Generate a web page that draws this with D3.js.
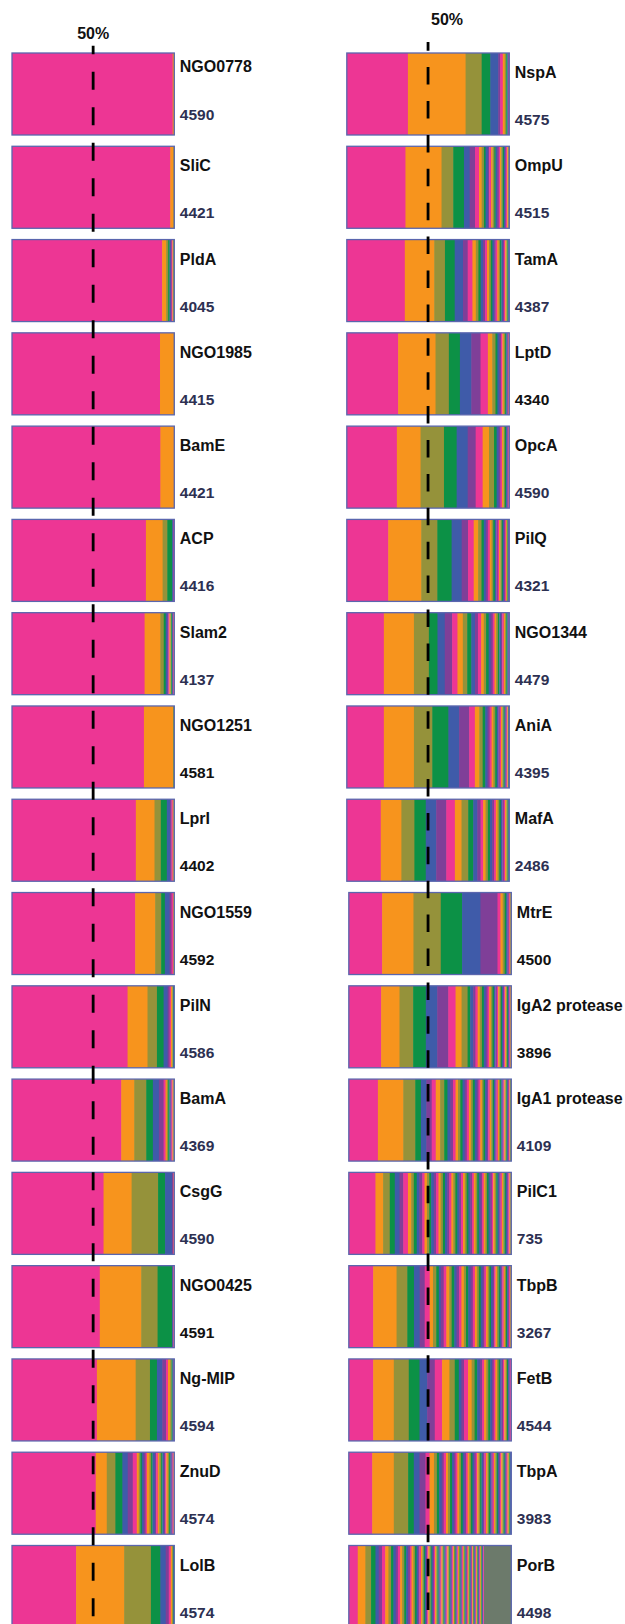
<!DOCTYPE html>
<html>
<head>
<meta charset="utf-8">
<script src="https://cdn.jsdelivr.net/npm/d3@7"></script>
<style>
  html, body { margin: 0; background: #fff; }
  svg { display: block; }
</style>
</head>
<body>
<svg id="chart" width="625" height="1624"></svg>
<script>
// Proteins and number of isolates typed for each
const leftProteins = ["NGO0778", "SliC", "PldA", "NGO1985", "BamE", "ACP", "Slam2", "NGO1251", "LprI",
  "NGO1559", "PilN", "BamA", "CsgG", "NGO0425", "Ng-MIP", "ZnuD", "LolB"];
const leftIsolates = [4590, 4421, 4045, 4415, 4421, 4416, 4137, 4581, 4402, 4592, 4586, 4369, 4590, 4591, 4594, 4574, 4574];

const rightProteins = ["NspA", "OmpU", "TamA", "LptD", "OpcA", "PilQ", "NGO1344", "AniA", "MafA", "MtrE",
  "IgA2 protease", "IgA1 protease", "PilC1", "TbpB", "FetB", "TbpA", "PorB"];
const rightIsolates = [4575, 4515, 4387, 4340, 4590, 4321, 4479, 4395, 2486, 4500, 3896, 4109, 735, 3267, 4544, 3983, 4498];

// Allele frequencies (% of isolates), most common allele first
const fNGO0778 = [99.0, 0.8, 0.2];
const fSliC = [97.5, 2.0, 0.3, 0.2];
const fPldA = [92.4, 2.5, 1.2, 0.9, 0.7, 0.6, 0.5, 0.4, 0.4, 0.3];
const fNGO1985 = [91.2, 8.5, 0.3];
const fBamE = [91.4, 8.4, 0.2];
const fACP = [82.5, 10.3, 2.9, 3.0, 0.5, 0.4, 0.4];
const fSlam2 = [81.7, 9.7, 2.1, 1.2, 1.0, 0.7, 0.6, 0.6, 0.5, 0.5, 0.4, 0.4, 0.3, 0.3];
const fNGO1251 = [81.3, 17.9, 0.5, 0.3];
const fLprI = [76.3, 11.5, 3.9, 3.7, 2.0, 0.9, 0.7, 0.5, 0.3, 0.2];
const fNGO1559 = [75.9, 12.3, 3.7, 2.3, 2.9, 1.2, 1.0, 0.4, 0.3];
const fPilN = [71.2, 12.3, 5.8, 4.1, 2.5, 1.2, 0.8, 0.8, 0.5, 0.4, 0.4];
const fBamA = [67.3, 8.0, 7.4, 4.1, 3.7, 2.9, 1.2, 0.8, 0.8, 0.8, 0.7, 0.6, 0.6, 0.5, 0.4, 0.2];
const fCsgG = [56.4, 17.3, 16.3, 4.3, 4.3, 0.6, 0.4, 0.4];
const fNGO0425 = [54.1, 25.5, 10.1, 8.9, 0.4, 0.4, 0.3, 0.3];
const fNgMIP = [52.3, 23.9, 8.8, 4.3, 3.3, 2.3, 1.2, 1.4, 0.8, 0.6, 0.5, 0.4, 0.2];
const fZnuD = [51.6, 6.8, 5.3, 4.3, 3.3, 3.1, 2.5,
  1.2, 0.9, 1.0, 1.1, 1.2, 0.8, 1.6, 1.0, 0.9, 1.4, 0.8, 1.0, 0.9, 1.2, 0.8, 0.9, 0.8, 0.7, 0.9, 0.8, 0.7, 0.8, 0.6, 0.6, 0.5];
const fLolB = [39.5, 29.6, 16.5, 5.8, 3.3, 1.9, 1.2, 0.8, 0.6, 0.4, 0.4];

const fNspA = [37.6, 35.5, 9.9, 5.3, 4.9, 1.2, 1.6, 1.2, 0.9, 0.7, 0.5, 0.4, 0.3];
const fOmpU = [36.1, 22.2, 7.2, 6.6, 3.5, 3.3, 2.5, 1.6, 1.4, 1.0,
  1.4, 0.8, 1.2, 0.9, 1.1, 0.8, 1.0, 0.9, 0.8, 0.7, 0.9, 0.8, 0.7, 0.6, 0.7, 0.6, 0.5, 0.2];
const fTamA = [35.7, 18.1, 6.6, 6.0, 5.1, 2.9, 2.9, 2.1, 1.6, 1.4, 1.4,
  1.3, 1.2, 1.2, 1.1, 1.0, 1.1, 0.9, 1.0, 0.9, 0.8, 0.9, 0.8, 0.7, 0.8, 0.7, 0.6, 0.6, 0.5, 0.1];
const fLptD = [31.6, 23.0, 8.2, 6.8, 7.0, 5.7, 4.5, 2.7, 2.0, 1.2, 1.2,
  1.0, 0.9, 0.8, 0.8, 0.7, 0.6, 0.5, 0.4, 0.4];
const fOpcA = [30.8, 14.6, 14.4, 7.8, 6.8, 4.9, 4.3, 3.9, 3.1, 1.6,
  1.2, 1.1, 1.0, 0.9, 0.8, 0.8, 0.7, 0.6, 0.4, 0.3];
const fPilQ = [25.5, 20.3, 9.9, 8.8, 6.2, 3.9, 3.5, 2.7, 2.1,
  1.4, 1.3, 1.2, 1.2, 1.1, 1.0, 1.0, 0.9, 0.9, 0.8, 0.8, 0.8, 0.7, 0.7, 0.6, 0.6, 0.5, 0.5, 0.4, 0.3, 0.4];
const fNGO1344 = [22.8, 18.5, 9.2, 5.3, 4.5, 4.5, 3.3, 3.3, 2.7, 2.5,
  2.3, 1.8, 2.0, 1.6, 1.4, 1.6, 1.2, 1.3, 1.1, 1.0, 1.1, 0.9, 1.0, 0.8, 0.9, 0.8, 0.7, 0.7, 0.6, 0.6];
const fAniA = [22.8, 18.5, 11.3, 9.9, 6.6, 6.2, 3.5, 2.7, 2.1, 1.6,
  1.4, 1.3, 1.2, 1.1, 1.1, 1.0, 0.9, 0.9, 0.8, 0.8, 0.7, 0.7, 0.6, 0.6, 0.5, 0.4, 0.3, 0.2, 0.3];
const fMafA = [20.9, 12.7, 8.0, 7.0, 6.4, 6.2, 5.3, 4.1, 4.1, 3.1, 2.5, 2.0,
  1.6, 1.5, 1.4, 1.3, 1.3, 1.2, 1.1, 1.1, 1.0, 1.0, 0.9, 0.9, 0.8, 0.8, 0.7, 0.6, 0.5];
const fMtrE = [20.5, 19.3, 16.8, 13.1, 11.3, 10.5, 1.8, 1.4, 1.2, 1.0, 0.8, 0.7, 0.6, 0.5, 0.3, 0.2];
const fIgA2 = [19.9, 11.3, 8.4, 7.8, 7.0, 6.8, 4.5, 3.7, 3.7, 1.6, 1.8, 1.4,
  1.4, 1.3, 1.3, 1.2, 1.2, 1.1, 1.0, 1.0, 1.0, 0.9, 0.9, 0.9, 0.8, 0.8, 0.8, 0.7, 0.7, 0.7,
  0.6, 0.6, 0.6, 0.5, 0.5, 0.5, 0.4, 0.4, 0.3];
const fIgA1 = [17.9, 15.6, 7.4, 3.5, 3.3, 3.3, 2.5, 2.7, 2.5, 2.0,
  1.8, 1.6, 1.6, 1.5, 1.4, 1.4, 1.3, 1.3, 1.3, 1.2, 1.2, 1.2, 1.2, 1.1, 1.1, 1.0, 1.0, 1.0, 1.0,
  0.9, 0.9, 0.9, 0.9, 0.8, 0.8, 0.8, 0.8, 0.7, 0.7, 0.7, 0.7, 0.6, 0.6, 0.6, 0.6,
  0.5, 0.5, 0.5, 0.5, 0.4, 0.4, 0.3];
const fPilC1 = [16.4, 4.7, 4.1, 3.1, 2.9, 2.3,
  2.9, 2.0, 1.6, 1.8, 1.6, 1.8, 1.4, 1.5, 1.4, 1.2,
  1.6, 1.4, 1.5, 1.3, 1.4, 1.3, 1.4, 1.2, 1.3, 1.2, 1.3, 1.2, 1.2, 1.1, 1.2, 1.1, 1.1,
  1.1, 1.1, 1.1, 1.1, 1.1, 1.0, 1.0, 1.0, 1.0, 1.0, 1.0, 1.0, 1.0, 1.0, 1.0,
  0.9, 0.9, 0.9, 0.9, 0.9, 0.9, 0.8, 0.8, 0.8, 0.8, 0.8, 0.8, 0.6, 0.6, 0.6];
const fTbpB = [15.0, 14.4, 6.6, 4.1, 3.5, 3.1, 3.1, 2.0, 2.0, 1.6, 1.2,
  1.8, 1.6, 1.8, 1.5, 1.6, 1.4, 1.6, 1.4, 1.5, 1.3, 1.4, 1.4, 1.4,
  1.3, 1.2, 1.2, 1.2, 1.1, 1.1, 1.1, 1.0, 1.0, 1.0, 1.0, 0.9, 0.9, 0.9, 0.9,
  0.8, 0.8, 0.8, 0.8, 0.7, 0.7, 0.7, 0.6, 0.6, 0.5, 0.5, 0.4];
const fFetB = [15.0, 12.7, 9.2, 6.6, 4.7, 4.7, 4.5, 4.5, 3.3, 2.5, 1.6, 1.6,
  2.5, 2.2, 1.8, 1.6, 1.6, 1.4, 1.3, 1.3, 1.2, 1.2, 1.1, 1.1, 1.0, 1.0, 1.0,
  0.9, 0.9, 0.9, 0.8, 0.8, 0.8, 0.7, 0.7, 0.6, 0.5, 0.2];
const fTbpA = [14.4, 13.3, 8.8, 3.5, 3.5, 3.7, 2.5, 2.7,
  1.8, 1.4, 1.6, 1.2, 1.4, 1.2, 1.3, 1.2,
  1.1, 1.1, 1.1, 1.1, 1.1, 1.1, 1.0, 1.0, 1.0, 1.0, 1.0, 1.0, 1.0, 1.0,
  0.9, 0.9, 0.9, 0.9, 0.9, 0.9, 0.9, 0.9, 0.8, 0.8, 0.8, 0.8, 0.8, 0.8, 0.8, 0.8,
  0.7, 0.7, 0.7, 0.7, 0.7, 0.7, 0.6, 0.6, 0.6, 0.6, 0.5, 0.5, 0.5, 0.2];
const fPorB = [5.5, 4.7, 3.5, 2.7, 2.0, 2.0, 2.0, 2.0,
  1.6, 1.4, 1.5, 1.3, 1.4, 1.2, 1.3, 1.2, 1.1, 1.2, 1.0, 1.1, 1.0, 1.0, 0.9, 0.9, 0.9, 0.8, 0.8, 0.8, 0.7, 0.7,
  0.7, 0.7, 0.7, 0.7, 0.7, 0.7, 0.7, 0.7, 0.7, 0.7,
  0.6, 0.6, 0.6, 0.6, 0.6, 0.6, 0.6, 0.6, 0.6, 0.6, 0.6, 0.6, 0.6, 0.6, 0.6,
  0.5, 0.5, 0.5, 0.5, 0.5, 0.5, 0.5, 0.5, 0.5, 0.5, 0.5, 0.5, 0.5, 0.5, 0.5, 0.5, 0.5, 0.5, 0.5, 0.5, 0.5, 0.5,
  0.4, 0.4, 0.4, 0.4, 0.4, 0.4, 0.4, 0.4, 0.4, 0.4, 0.4, 0.4, 0.4, 0.4, 0.4, 0.4, 0.4, 0.4, 0.4, 0.4];
// PorB: share of isolates carrying singleton alleles, shown as one pooled block
const porBPooled = 16.8;

const leftFreqs = [fNGO0778, fSliC, fPldA, fNGO1985, fBamE, fACP, fSlam2, fNGO1251, fLprI,
  fNGO1559, fPilN, fBamA, fCsgG, fNGO0425, fNgMIP, fZnuD, fLolB];
const rightFreqs = [fNspA, fOmpU, fTamA, fLptD, fOpcA, fPilQ, fNGO1344, fAniA, fMafA, fMtrE,
  fIgA2, fIgA1, fPilC1, fTbpB, fFetB, fTbpA, fPorB];

const referenceLine = 50; // % of isolates

// Allele colours cycle in rank order
const alleleColors = ["#ED3694", "#F7941D", "#95923A", "#0C9146", "#3F5BA9", "#7F3F98"];
const pooledColor = "#6C7A6B";

const svg = d3.select("#chart");
const barH = 82;
const rowY = d3.scaleLinear().domain([0, 16]).range([53, 1545.5]);
const font = "Liberation Sans, Arial, sans-serif";

const columns = [
  { names: leftProteins, counts: leftIsolates, freqs: leftFreqs, x: 12, w: 162.3,
    dashTop: 45.7, dash: "18 17.5", dashOffset: 9.4, pctX: 93.2, pctY: 39, shiftFrom: 99 },
  { names: rightProteins, counts: rightIsolates, freqs: rightFreqs, x: 346.8, w: 162.5,
    dashTop: 42, dash: "17.5 16.4", dashOffset: 8.8, pctX: 447, pctY: 25, shiftFrom: 9 }
];

// Counts that are printed in plain black; the rest use the dark navy
const blackCounts = new Set(["NGO1251", "LprI", "NGO1559", "NGO0425", "LptD", "MtrE", "IgA2 protease"]);

columns.forEach(col => {
  const rows = svg.append("g");
  col.names.forEach((name, i) => {
    const vals = col.freqs[i];
    const pooled = name === "PorB" ? porBPooled : 0;
    const total = d3.sum(vals) + pooled;
    const x = d3.scaleLinear().domain([0, total]).range([0, col.w]);
    const bx = col.x + (i >= col.shiftFrom ? 2 : 0);
    const y0 = rowY(i);
    const g = rows.append("g").attr("transform", `translate(${bx},${y0})`);

    let cum = 0;
    const segs = vals.map((v, j) => {
      const s = { start: cum, value: v, color: alleleColors[j % alleleColors.length] };
      cum += v;
      return s;
    });
    if (pooled) segs.push({ start: cum, value: pooled, color: pooledColor });

    // small overlap hides seams between neighbouring segments
    g.selectAll("rect.seg").data(segs).join("rect")
      .attr("class", "seg")
      .attr("x", d => x(d.start))
      .attr("y", 0)
      .attr("width", (d, j) => {
        const w = x(d.value);
        if (j === segs.length - 1) return w;
        const pad = w >= 1.5 ? 0.6 : 0.25;
        return Math.min(w + pad, col.w - x(d.start));
      })
      .attr("height", barH)
      .attr("fill", d => d.color);

    g.append("rect")
      .attr("x", 0).attr("y", 0)
      .attr("width", col.w).attr("height", barH)
      .attr("fill", "none")
      .attr("stroke", "#5A66AE")
      .attr("stroke-width", 1.3);

    const lx = bx + col.w + 5.5;
    const nameDy = (col.x === 12 && i === 0) ? 19 : 25;
    const countDy = (col.x === 12 && i === 0) ? 67 : 72;
    svg.append("text")
      .attr("x", lx).attr("y", y0 + nameDy)
      .attr("font-family", font)
      .attr("font-weight", "bold").attr("font-size", 16)
      .attr("fill", "#111")
      .text(name);
    svg.append("text")
      .attr("x", lx).attr("y", y0 + countDy)
      .attr("font-family", font)
      .attr("font-weight", "bold").attr("font-size", 15.5)
      .attr("fill", blackCounts.has(name) ? "#111" : "#2D3052")
      .text(col.counts[i]);
  });

  // 50% reference line
  const pct = d3.scaleLinear().domain([0, 100]).range([col.x, col.x + col.w]);
  const lineX = pct(referenceLine);
  svg.append("line")
    .attr("x1", lineX).attr("x2", lineX)
    .attr("y1", col.dashTop).attr("y2", 1624)
    .attr("stroke", "#000")
    .attr("stroke-width", 2.8)
    .attr("stroke-dasharray", col.dash)
    .attr("stroke-dashoffset", col.dashOffset);

  svg.append("text")
    .attr("x", col.pctX).attr("y", col.pctY)
    .attr("text-anchor", "middle")
    .attr("font-family", font)
    .attr("font-weight", "bold").attr("font-size", 16)
    .attr("fill", "#111")
    .text(referenceLine + "%");
});
</script>
</body>
</html>
